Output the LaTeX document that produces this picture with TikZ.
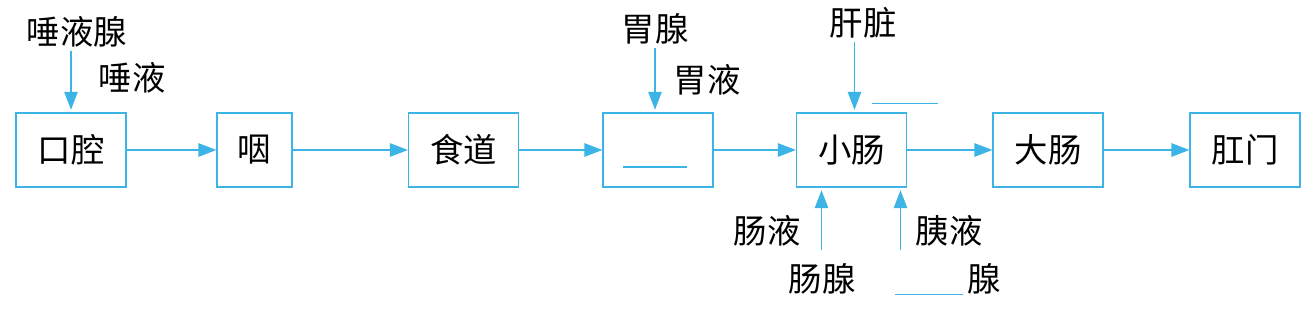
\documentclass[tikz,border=0pt]{standalone}
\usepackage{fontspec}
\usepackage{tikz}
\usetikzlibrary{arrows.meta,calc}
\newfontfamily\cjk{Noto Sans CJK SC}
\definecolor{flowblue}{RGB}{60,180,230}

\begin{document}
\begin{tikzpicture}[x=0.02cm, y=-0.02cm,
    every node/.style={font=\cjk\fontsize{19}{21}\selectfont},
    organ/.style={rectangle, draw=flowblue, line width=0.7pt, minimum width=2.2cm, minimum height=1.48cm, inner sep=0pt},
    tag/.style={inner sep=2pt},
    flow/.style={-{Triangle[length=0.36cm,width=0.27cm]}, draw=flowblue, line width=0.7pt},
    feed/.style={flow, shorten >=1.5pt},
    blank/.style={draw=flowblue, line width=0.8pt}]

\useasboundingbox (0,0) rectangle (1308,308);

% digestive tract
\node [organ] (kouqiang) at (71,150) {口腔};
\node [organ, minimum width=1.5cm] (yan) at (254.5,150) {咽};
\node [organ] (shidao) at (463.5,150) {食道};
\node [organ] (wei) at (658,150) {};
\node [organ] (xiaochang) at (851.5,150) {小肠};
\node [organ] (dachang) at (1048,150) {大肠};
\node [organ] (gangmen) at (1245,150) {肛门};

\draw [flow] (kouqiang) -- (yan);
\draw [flow] (yan) -- (shidao);
\draw [flow] (shidao) -- (wei);
\draw [flow] (wei) -- (xiaochang);
\draw [flow] (xiaochang) -- (dachang);
\draw [flow] (dachang) -- (gangmen);

\draw [blank] ([xshift=-0.7cm, yshift=-0.34cm]wei.center) -- ++(64,0);

% glands above
\node [tag] (tuoyexian) at (77,32) {唾液腺};
\node [tag] (tuoye) at (132,78) {唾液};
\node [tag] (weixian) at (655,29) {胃腺};
\node [tag] (weiye) at (707,80) {胃液};
\node [tag] (ganzang) at (863,23) {肝脏};

\draw [feed] (kouqiang.north |- tuoyexian.south) -- (kouqiang.north);
\draw [feed] (weixian.south) -- (weixian.south |- wei.north);
\coordinate (ganin) at ([xshift=0.06cm]xiaochang.north);
\draw [feed] (ganin |- ganzang.south) -- (ganin);
\draw [blank] ([xshift=0.4cm, yshift=0.18cm]xiaochang.north) -- ++(66,0);

% glands below
\node [tag] (changye) at (767,231) {肠液};
\node [tag] (changxian) at (822,279) {肠腺};
\node [tag] (yiye) at (949,231) {胰液};
\node [tag] (yixian) at (984,279) {腺};

\coordinate (changin) at ([xshift=-0.6cm]xiaochang.south);
\coordinate (yiin) at ([xshift=0.98cm]xiaochang.south);
\draw [feed] (changin |- changye.south) -- (changin);
\draw [feed] (yiin |- yiye.south) -- (yiin);
\draw [blank] ([yshift=-0.06cm]yixian.base west) -- ++(-68,0);

\end{tikzpicture}
\end{document}
